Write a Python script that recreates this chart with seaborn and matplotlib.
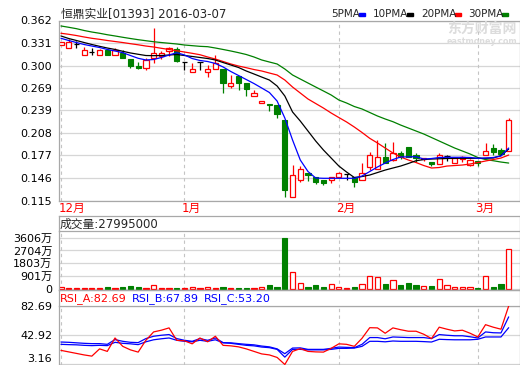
import numpy as np
import matplotlib
matplotlib.use("Agg")
import matplotlib.pyplot as plt
import matplotlib.transforms as mtransforms
import seaborn as sns

# ---- data (59 trading days, 2015-12 .. 2016-03-07) ----
opens = [0.329, 0.324, 0.330, 0.315, 0.319, 0.315, 0.322, 0.315, 0.318, 0.309,
         0.300, 0.297, 0.310, 0.313, 0.320, 0.323, 0.305, 0.291, 0.305, 0.291,
         0.296, 0.296, 0.272, 0.286, 0.277, 0.259, 0.249, 0.247, 0.246, 0.225,
         0.120, 0.144, 0.153, 0.147, 0.143, 0.144, 0.148, 0.152, 0.147, 0.144,
         0.161, 0.158, 0.175, 0.171, 0.180, 0.189, 0.177, 0.172, 0.168, 0.165,
         0.176, 0.166, 0.172, 0.164, 0.170, 0.177, 0.187, 0.184, 0.183]
highs = [0.332, 0.336, 0.334, 0.326, 0.324, 0.323, 0.322, 0.324, 0.322, 0.309,
         0.305, 0.310, 0.352, 0.320, 0.326, 0.325, 0.305, 0.304, 0.305, 0.301,
         0.315, 0.296, 0.287, 0.286, 0.277, 0.267, 0.252, 0.247, 0.246, 0.225,
         0.164, 0.162, 0.153, 0.148, 0.143, 0.148, 0.155, 0.152, 0.147, 0.166,
         0.182, 0.198, 0.194, 0.196, 0.183, 0.189, 0.180, 0.174, 0.168, 0.181,
         0.177, 0.174, 0.176, 0.172, 0.170, 0.194, 0.193, 0.187, 0.228]
lows = [0.328, 0.324, 0.324, 0.315, 0.315, 0.315, 0.315, 0.315, 0.310, 0.297,
        0.295, 0.294, 0.304, 0.309, 0.313, 0.305, 0.294, 0.291, 0.294, 0.285,
        0.296, 0.262, 0.269, 0.267, 0.258, 0.258, 0.249, 0.238, 0.229, 0.120,
        0.120, 0.141, 0.142, 0.138, 0.137, 0.139, 0.147, 0.144, 0.134, 0.144,
        0.157, 0.158, 0.167, 0.169, 0.172, 0.175, 0.168, 0.170, 0.163, 0.165,
        0.169, 0.166, 0.168, 0.163, 0.163, 0.177, 0.178, 0.177, 0.183]
closes = [0.332, 0.332, 0.330, 0.322, 0.319, 0.322, 0.315, 0.322, 0.310, 0.300,
          0.297, 0.308, 0.318, 0.318, 0.324, 0.306, 0.305, 0.295, 0.305, 0.295,
          0.304, 0.277, 0.277, 0.277, 0.268, 0.262, 0.252, 0.246, 0.234, 0.130,
          0.150, 0.159, 0.150, 0.140, 0.139, 0.147, 0.153, 0.152, 0.141, 0.153,
          0.178, 0.175, 0.167, 0.180, 0.175, 0.175, 0.173, 0.173, 0.165, 0.178,
          0.176, 0.174, 0.175, 0.171, 0.166, 0.183, 0.182, 0.179, 0.225]

ma5 = [0.3376, 0.3346, 0.3318, 0.3291, 0.3270, 0.3250, 0.3223, 0.3202, 0.3179, 0.3140,
       0.3102, 0.3079, 0.3085, 0.3113, 0.3147, 0.3179, 0.3147, 0.3099, 0.3072, 0.3058,
       0.3031, 0.2983, 0.2921, 0.2866, 0.2811, 0.2756, 0.2695, 0.2633, 0.2516, 0.2283,
       0.1982, 0.1708, 0.1550, 0.1461, 0.1457, 0.1457, 0.1457, 0.1457, 0.1457, 0.1488,
       0.1550, 0.1612, 0.1666, 0.1714, 0.1749, 0.1751, 0.1753, 0.1721, 0.1728, 0.1742,
       0.1745, 0.1745, 0.1745, 0.1742, 0.1731, 0.1735, 0.1742, 0.1762, 0.1872]
ma10 = [0.3408, 0.3373, 0.3346, 0.3318, 0.3291, 0.3266, 0.3243, 0.3223, 0.3198, 0.3175,
        0.3157, 0.3140, 0.3138, 0.3140, 0.3147, 0.3154, 0.3140, 0.3127, 0.3113, 0.3099,
        0.3079, 0.3044, 0.3010, 0.2976, 0.2928, 0.2887, 0.2845, 0.2804, 0.2722, 0.2585,
        0.2366, 0.2242, 0.2105, 0.1968, 0.1845, 0.1735, 0.1625, 0.1543, 0.1468, 0.1481,
        0.1502, 0.1536, 0.1570, 0.1598, 0.1625, 0.1660, 0.1698, 0.1714, 0.1721, 0.1725,
        0.1728, 0.1731, 0.1731, 0.1731, 0.1731, 0.1731, 0.1735, 0.1769, 0.1858]
ma20 = [0.3445, 0.3431, 0.3414, 0.3394, 0.3376, 0.3362, 0.3346, 0.3332, 0.3318, 0.3302,
        0.3287, 0.3270, 0.3257, 0.3239, 0.3223, 0.3205, 0.3188, 0.3170, 0.3151, 0.3120,
        0.3092, 0.3058, 0.3024, 0.2996, 0.2973, 0.2948, 0.2928, 0.2900, 0.2873, 0.2804,
        0.2708, 0.2626, 0.2544, 0.2482, 0.2420, 0.2352, 0.2290, 0.2229, 0.2160, 0.2085,
        0.2005, 0.1941, 0.1872, 0.1804, 0.1749, 0.1708, 0.1673, 0.1632, 0.1598, 0.1605,
        0.1625, 0.1632, 0.1639, 0.1653, 0.1673, 0.1694, 0.1714, 0.1735, 0.1776]
ma30 = [0.3545, 0.3527, 0.3508, 0.3483, 0.3462, 0.3445, 0.3425, 0.3408, 0.3390, 0.3373,
        0.3357, 0.3343, 0.3329, 0.3318, 0.3308, 0.3298, 0.3284, 0.3275, 0.3266, 0.3261,
        0.3243, 0.3223, 0.3202, 0.3179, 0.3154, 0.3120, 0.3079, 0.3051, 0.3024, 0.2955,
        0.2873, 0.2818, 0.2763, 0.2708, 0.2654, 0.2599, 0.2530, 0.2489, 0.2441, 0.2407,
        0.2359, 0.2311, 0.2270, 0.2233, 0.2187, 0.2146, 0.2105, 0.2064, 0.2016, 0.1968,
        0.1920, 0.1872, 0.1831, 0.1790, 0.1742, 0.1714, 0.1698, 0.1680, 0.1666]

# volume in 万
volumes = [90, 60, 40, 30, 50, 40, 100, 60, 110, 190,
           100, 60, 230, 60, 50, 80, 40, 100, 50, 100,
           60, 110, 50, 60, 80, 50, 92, 262, 141, 3606,
           1202, 424, 141, 262, 141, 332, 120, 50, 141, 332,
           898, 848, 332, 615, 262, 424, 262, 191, 191, 686,
           262, 120, 120, 120, 71, 898, 141, 332, 2799.5]

rsi_a = [22.35, 20.30, 18.24, 16.18, 14.54, 24.41, 20.98, 39.22, 27.84, 23.04,
         20.02, 36.06, 47.44, 49.77, 52.93, 36.06, 35.38, 31.27, 39.22, 34.01,
         41.55, 29.21, 28.52, 27.15, 24.41, 20.98, 17.56, 16.18, 12.76, 3.16,
         20.98, 24.68, 20.98, 20.30, 20.02, 25.10, 31.27, 30.58, 27.84, 38.81,
         53.20, 52.93, 45.66, 52.93, 50.46, 48.40, 48.40, 44.29, 38.39, 53.89,
         51.15, 48.81, 49.77, 45.66, 40.59, 57.31, 53.89, 51.15, 82.69]
rsi_b = [33.73, 33.32, 32.64, 31.95, 31.54, 31.54, 30.58, 37.02, 34.69, 33.32,
         32.91, 38.39, 41.55, 42.92, 43.88, 38.39, 36.06, 34.69, 38.39, 36.06,
         39.22, 32.91, 32.64, 31.54, 30.58, 29.89, 28.25, 27.15, 24.41, 17.83,
         25.51, 25.78, 23.73, 23.73, 23.73, 25.10, 26.88, 26.47, 26.06, 30.58,
         39.77, 39.77, 38.12, 40.59, 40.18, 39.77, 39.77, 39.77, 38.39, 43.88,
         42.92, 42.23, 42.23, 40.86, 39.22, 47.44, 46.35, 46.07, 67.89]
rsi_c = [30.58, 30.17, 29.89, 29.21, 28.80, 29.21, 28.80, 33.32, 31.95, 31.27,
         30.17, 34.01, 36.75, 38.12, 39.22, 36.06, 34.69, 34.01, 36.06, 34.69,
         36.75, 32.64, 31.95, 30.58, 29.21, 28.52, 26.88, 26.06, 23.73, 13.17,
         23.73, 23.73, 23.04, 23.04, 23.04, 23.73, 25.10, 25.10, 25.51, 27.84,
         34.69, 34.69, 34.01, 35.10, 34.69, 34.69, 34.69, 34.28, 33.73, 37.44,
         37.02, 36.75, 36.75, 36.75, 37.44, 40.59, 40.59, 40.59, 53.20]

month_starts = [0, 16, 36, 54]
month_labels = ["12月", "1月", "2月", "3月"]
price_ticks = [0.115, 0.146, 0.177, 0.208, 0.239, 0.269, 0.300, 0.331, 0.362]
vol_ticks = [0, 901, 1803, 2704, 3606]
vol_tick_labels = ["0", "901万", "1803万", "2704万", "3606万"]
rsi_ticks = [3.16, 42.92, 82.69]

RED, GREEN, BLUE = "#ff0000", "#008000", "#0000ff"
GRID, FRAME, DASH = "#d6d6d6", "#a8a8a8", "#c4c4c4"
W, H = 520, 365

sns.set_theme(style="white")
plt.rcParams["font.family"] = ["DejaVu Sans", "Noto Sans CJK SC"]

fig = plt.figure(figsize=(W / 100, H / 100), dpi=100)


def px_axes(x0, y0, x1, y1):
    return fig.add_axes([x0 / W, 1 - y1 / H, (x1 - x0) / W, (y1 - y0) / H])


def frame(ax, grid=True):
    for s in ax.spines.values():
        s.set_color(FRAME)
        s.set_linewidth(0.9)
    ax.set_facecolor("none")
    ax.set_xlim(-0.32, 59.4)
    ax.set_xticks([])
    ax.tick_params(axis="y", length=3, width=0.8, color=FRAME, pad=1.5,
                   labelsize=8, labelcolor="black")
    if grid:
        ax.yaxis.grid(True, color=GRID, lw=0.9)
        for m in month_starts:
            ax.axvline(m, color=DASH, lw=0.8, ls=(0, (3, 3)), zorder=1)


idx = np.arange(len(closes))
o = np.array(opens)
h = np.array(highs)
l = np.array(lows)
c = np.array(closes)
up = c > o
down = c < o
flat = c == o
bw = 0.68

# watermark (behind the price panel)
fig.text(517 / W, 1 - 29 / H, "东方财富网", color="#dcdcdc", fontsize=10,
         fontweight="bold", ha="right", va="center", zorder=0)
fig.text(517 / W, 1 - 42 / H, "eastmoney.com", color="#dcdcdc", fontsize=5.8,
         fontweight="bold", ha="right", va="center", zorder=0)

# ---- price panel ----
ax = px_axes(58.5, 20.5, 519.5, 200.7)
frame(ax)
ax.set_ylim(0.115, 0.362)
ax.set_yticks(price_ticks)
ax.set_yticklabels([f"{t:.3f}" for t in price_ticks])

# down candles: filled green
ax.vlines(idx[down], l[down], h[down], color=GREEN, lw=0.9, zorder=2)
ax.bar(idx[down], (o - c)[down], bottom=c[down], width=bw, color=GREEN,
       edgecolor=GREEN, lw=0.8, zorder=2)
# up candles: hollow red, wick outside the body
ax.vlines(idx[up], c[up], h[up], color=RED, lw=0.9, zorder=2)
ax.vlines(idx[up], l[up], o[up], color=RED, lw=0.9, zorder=2)
ax.bar(idx[up], (c - o)[up], bottom=o[up], width=bw, facecolor="white",
       edgecolor=RED, lw=0.9, zorder=2)
# doji
ax.vlines(idx[flat], l[flat], h[flat], color="black", lw=0.9, zorder=2)
ax.hlines(c[flat], idx[flat] - bw / 2, idx[flat] + bw / 2, color="black", lw=0.9, zorder=2)

for vals, col in [(ma30, GREEN), (ma20, RED), (ma10, "black"), (ma5, BLUE)]:
    sns.lineplot(x=idx, y=vals, ax=ax, color=col, lw=0.9, zorder=3)
ax.set_xlabel("")
ax.set_ylabel("")

month_tr = mtransforms.blended_transform_factory(ax.transData, ax.transAxes)
for m, lab in zip(month_starts, month_labels):
    ax.text(m - 0.3, -0.008, lab, transform=month_tr, color=RED, fontsize=8.5,
            ha="left", va="top")

# title and MA legend
fig.text(61 / W, 1 - 14 / H, "恒鼎实业[01393] 2016-03-07", fontsize=8.5,
         ha="left", va="center")
legend_items = [("5PMA", BLUE, 331, 359), ("10PMA", "black", 373, 407),
                ("20PMA", RED, 421, 455), ("30PMA", GREEN, 468, 502)]
for lab, col, x0, x1 in legend_items:
    fig.text(x0 / W, 1 - 14 / H, lab, fontsize=7.5, ha="left", va="center")
    fig.patches.append(plt.Rectangle((x1 / W, 1 - 15.5 / H), 6 / W, 3 / H,
                                     transform=fig.transFigure, color=col))

# ---- volume panel ----
vh = px_axes(58.5, 215.7, 519.5, 230.7)
frame(vh, grid=False)
vh.set_yticks([])
vh.spines["bottom"].set_visible(False)
vh.text(0.003, 0.45, "成交量:27995000", transform=vh.transAxes, fontsize=8.5,
        ha="left", va="center")

av = px_axes(58.5, 230.7, 519.5, 289.7)
frame(av)
vol = np.array(volumes)
vup = flat | up
av.bar(idx[down], vol[down], width=bw, color=GREEN, edgecolor=GREEN, lw=0.8, zorder=2)
av.bar(idx[vup], vol[vup], width=bw, facecolor="white", edgecolor=RED,
       lw=0.9, zorder=2)
av.set_ylim(-71, 4100)
av.set_yticks(vol_ticks)
av.set_yticklabels(vol_tick_labels)

# ---- RSI panel ----
rh = px_axes(58.5, 289.7, 519.5, 305.7)
frame(rh, grid=False)
rh.set_yticks([])
rh.spines["bottom"].set_visible(False)
rsi_titles = [("RSI_A:82.69", RED, 60), ("RSI_B:67.89", BLUE, 132), ("RSI_C:53.20", BLUE, 204)]
for lab, col, x0 in rsi_titles:
    fig.text(x0 / W, 1 - 298.5 / H, lab, color=col, fontsize=8, ha="left", va="center")

ar = px_axes(58.5, 305.7, 519.5, 364.5)
frame(ar)
for vals, col in [(rsi_c, BLUE), (rsi_b, BLUE), (rsi_a, RED)]:
    sns.lineplot(x=idx, y=vals, ax=ar, color=col, lw=0.9, zorder=3)
ar.set_xlabel("")
ar.set_ylabel("")
ar.set_ylim(3.16, 83.1)
ar.set_yticks(rsi_ticks)
ar.set_yticklabels([f"{t:.2f}" for t in rsi_ticks])
ar.get_yticklabels()[0].set_va("bottom")

fig.savefig("out.png", dpi=100)
